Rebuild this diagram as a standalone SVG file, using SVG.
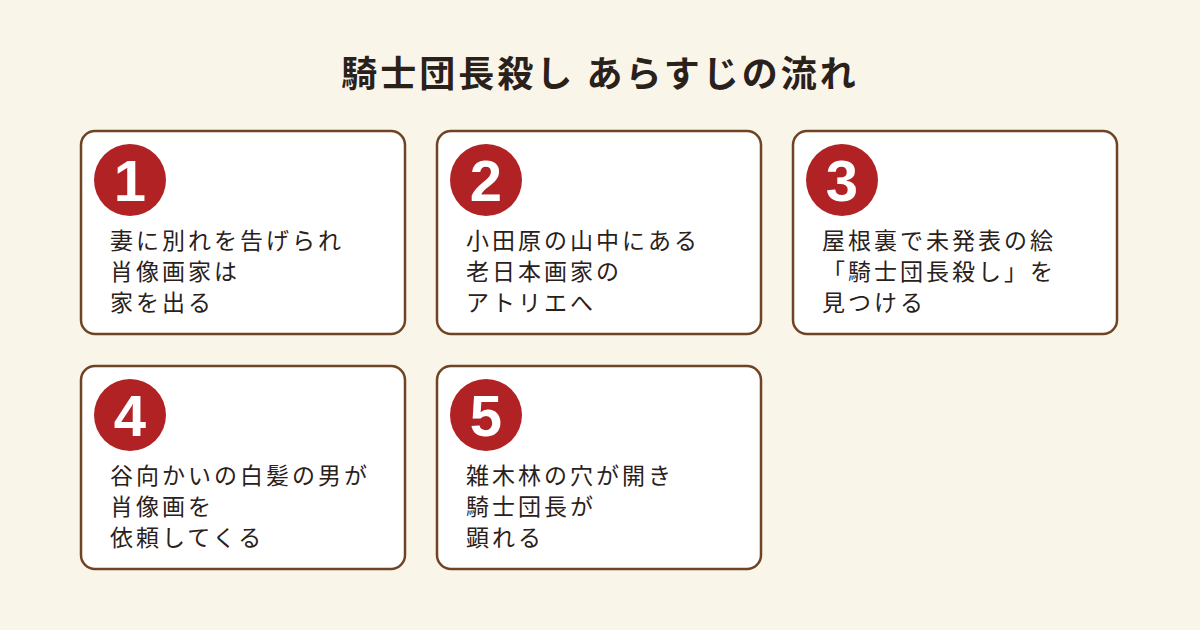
<svg xmlns="http://www.w3.org/2000/svg" width="1200" height="630" viewBox="0 0 1200 630">
<style>
.box{fill:#fff;stroke:#6e4424;stroke-width:2.5}
.c{fill:#b02224}
.n{font-family:"Liberation Sans",Arial,sans-serif;font-weight:bold;font-size:58px;fill:#fff;text-anchor:middle}
.t{font-family:"Noto Sans CJK JP",sans-serif;font-size:23px;letter-spacing:3px;fill:#2a211b}
.h{font-family:"Noto Sans CJK JP",sans-serif;font-size:36px;letter-spacing:3px;font-weight:bold;fill:#2a211b;text-anchor:middle}
</style>
<rect width="1200" height="630" fill="#faf5e9"/>
<text class="h" x="600" y="87">騎士団長殺し あらすじの流れ</text>
<g id="n1"><rect class="box" x="81" y="131" width="324" height="203" rx="14"/><circle class="c" cx="130" cy="180" r="36"/><text class="n" x="130" y="201">1</text>
<text class="t" x="110" y="249">妻に別れを告げられ</text><text class="t" x="110" y="280">肖像画家は</text><text class="t" x="110" y="311">家を出る</text></g>
<g id="n2"><rect class="box" x="437" y="131" width="324" height="203" rx="14"/><circle class="c" cx="486" cy="180" r="36"/><text class="n" x="486" y="201">2</text>
<text class="t" x="466" y="249">小田原の山中にある</text><text class="t" x="466" y="280">老日本画家の</text><text class="t" x="466" y="311">アトリエへ</text></g>
<g id="n3"><rect class="box" x="793" y="131" width="324" height="203" rx="14"/><circle class="c" cx="842" cy="180" r="36"/><text class="n" x="842" y="201">3</text>
<text class="t" x="822" y="249">屋根裏で未発表の絵</text><text class="t" x="822" y="280">「騎士団長殺し」を</text><text class="t" x="822" y="311">見つける</text></g>
<g id="n4"><rect class="box" x="81" y="366" width="324" height="203" rx="14"/><circle class="c" cx="130" cy="415" r="36"/><text class="n" x="130" y="436">4</text>
<text class="t" x="110" y="484">谷向かいの白髪の男が</text><text class="t" x="110" y="515">肖像画を</text><text class="t" x="110" y="546">依頼してくる</text></g>
<g id="n5"><rect class="box" x="437" y="366" width="324" height="203" rx="14"/><circle class="c" cx="486" cy="415" r="36"/><text class="n" x="486" y="436">5</text>
<text class="t" x="466" y="484">雑木林の穴が開き</text><text class="t" x="466" y="515">騎士団長が</text><text class="t" x="466" y="546">顕れる</text></g>
<g id="connectors"/>
</svg>
